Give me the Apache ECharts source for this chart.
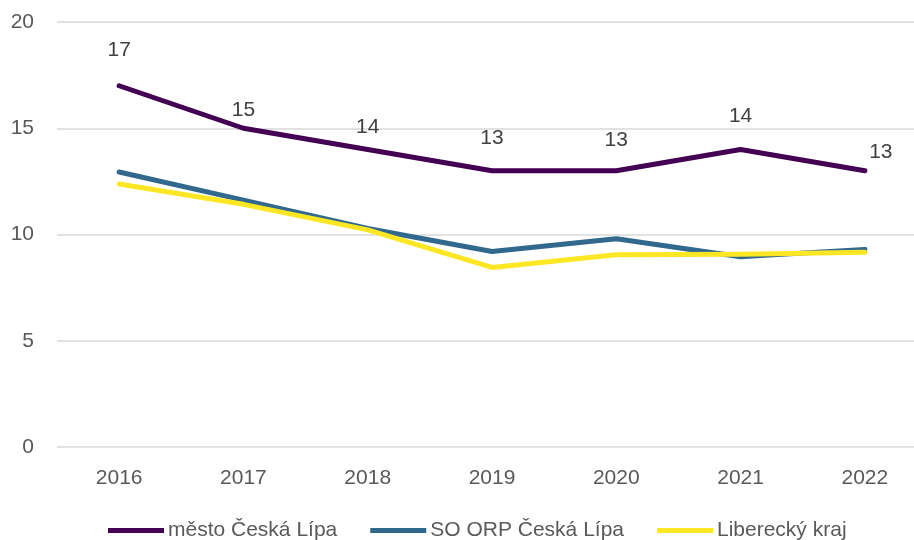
<!DOCTYPE html>
<html>
<head>
<meta charset="utf-8">
<script src="https://cdn.jsdelivr.net/npm/echarts@6/dist/echarts.min.js"></script>
<style>html,body{margin:0;padding:0;background:#fff;}#c{width:914px;height:540px;}</style>
</head>
<body>
<div id="c"></div>
<script>
const categories = ['2016','2017','2018','2019','2020','2021','2022'];
const mesto = [17, 15, 14, 13, 13, 14, 13];
const orp = [12.94, 11.62, 10.28, 9.2, 9.8, 8.95, 9.3];
const kraj = [12.38, 11.42, 10.22, 8.45, 9.05, 9.07, 9.16];
const yTicks = [0, 5, 10, 15, 20];
const seriesNames = ['město Česká Lípa', 'SO ORP Česká Lípa', 'Liberecký kraj'];

// label placement (style only)
const labelShift = [[0,-36],[0,-18],[0,-22],[0,-33],[0,-31],[0,-33],[16,-19]];

const FONT = 'Liberation Sans, Arial, sans-serif';
const FS = 21;
const chart = echarts.init(document.getElementById('c'));

const mestoData = mesto.map((v, i) => ({
  value: v,
  label: { offset: labelShift[i] }
}));

chart.setOption({
  animation: false,
  backgroundColor: '#ffffff',
  grid: { left: 57, right: -13, top: 22, bottom: 93, outerBoundsMode: 'none', containLabel: false },
  legend: {
    left: 103, top: 515,
    icon: 'rect', itemWidth: 56, itemHeight: 5, itemGap: 33,
    textStyle: { fontFamily: FONT, fontSize: FS, color: '#595959', padding: [0,0,0,-1] },
    data: seriesNames
  },
  xAxis: {
    type: 'category', data: categories, boundaryGap: true,
    axisLine: { show: false }, axisTick: { show: false },
    axisLabel: { fontFamily: FONT, fontSize: FS, color: '#595959', margin: 21 }
  },
  yAxis: {
    type: 'value', min: yTicks[0], max: yTicks[yTicks.length-1], interval: 5,
    axisLine: { show: false }, axisTick: { show: false },
    axisLabel: { fontFamily: FONT, fontSize: FS, color: '#595959', margin: 23 },
    splitLine: { lineStyle: { color: '#d9d9d9', width: 1.5 } }
  },
  series: [
    {
      name: seriesNames[0], type: 'line', data: mestoData,
      symbol: 'circle', symbolSize: 4, itemStyle: { color: '#440154' },
      lineStyle: { color: '#440154', width: 5, cap: 'round', join: 'round' },
      label: { show: true, position: 'inside', color: '#404040', fontFamily: FONT, fontSize: FS },
      emphasis: { disabled: true }
    },
    {
      name: seriesNames[1], type: 'line', data: orp,
      symbol: 'none', itemStyle: { color: '#31688e' },
      lineStyle: { color: '#31688e', width: 5, cap: 'round', join: 'round' },
      emphasis: { disabled: true }
    },
    {
      name: seriesNames[2], type: 'line', data: kraj,
      symbol: 'none', itemStyle: { color: '#fde725' },
      lineStyle: { color: '#fde725', width: 5, cap: 'round', join: 'round' },
      emphasis: { disabled: true }
    }
  ]
});
</script>
</body>
</html>
